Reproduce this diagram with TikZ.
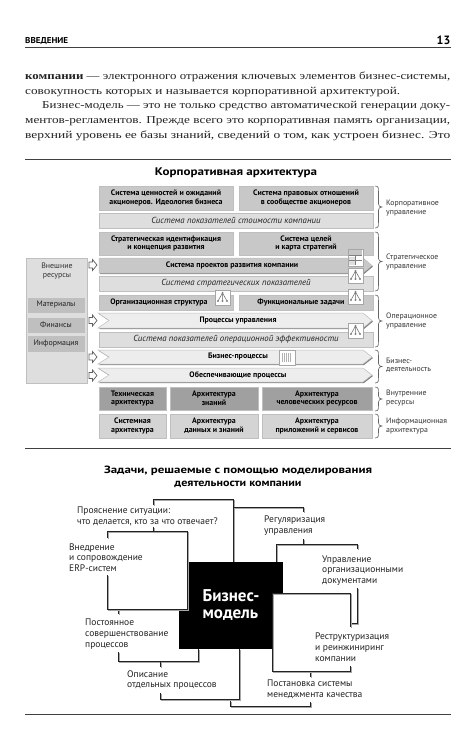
\documentclass[tikz,border=0pt]{standalone}
\usepackage{fontspec}
\usepackage{graphicx}
\setmainfont{Liberation Serif}
\setsansfont{PT Sans}
\usetikzlibrary{shadows,calc}
\definecolor{boxa}{HTML}{C8C8C8}
\definecolor{boxb}{HTML}{DEDEDE}
\definecolor{boxc}{HTML}{A0A0A0}
\definecolor{boxd}{HTML}{D4D4D4}
\definecolor{boxe}{HTML}{EDEDED}
\definecolor{shad}{HTML}{808080}
\definecolor{ink}{HTML}{222222}
\definecolor{lab}{HTML}{333333}
\tikzset{
  bx/.style={draw=gray!50,line width=.5pt,inner sep=0pt,align=center,text=black,font=\sffamily\bfseries\fontsize{7.9}{8.9}\selectfont,
    general shadow={fill=shad,shadow xshift=1pt,shadow yshift=-1pt}},
  ital/.style={bx,fill=boxb,font=\sffamily\itshape\fontsize{8.8}{9.5}\selectfont,text=ink},
  dark/.style={bx,fill=boxc},
  mid/.style={bx,fill=boxa},
  pale/.style={bx,fill=boxd},
  res/.style={bx,fill=gray!50,font=\sffamily\fontsize{7.9}{8.9}\selectfont,text=ink},
  panel/.style={bx,fill=boxb,font=\sffamily\fontsize{7.9}{8.9}\selectfont,text=lab},
  arrowbar/.style={draw=gray!50,line width=.5pt,general shadow={fill=shad,shadow xshift=1pt,shadow yshift=-1pt}},
  barlabel/.style={inner sep=0pt,font=\sffamily\bfseries\fontsize{7.9}{8.9}\selectfont},
  sidelab/.style={anchor=west,inner sep=0pt,align=left,text=lab,font=\sffamily\fontsize{7.8}{8.4}\selectfont},
  tasklab/.style={anchor=west,inner sep=0pt,align=left,text=ink,font=\sffamily\fontsize{9.5}{10.8}\selectfont},
  frameline/.style={draw=ink,line width=.8pt,preaction={draw=gray!70,line width=1pt,transform canvas={xshift=1pt,yshift=-1pt}}},
  brc/.style={draw=gray!80!black,line width=.6pt},
  rulethick/.style={draw=black!75,line width=.9pt},
  bodyline/.style={anchor=west,inner sep=0pt},
  hollow/.style={draw=gray!75!black,fill=white,line width=.7pt},
  icon/.style={draw=gray!70,fill=white,line width=.5pt}
}
% name, x1,y1,x2,y2, style, text
\newcommand\bxx[7]{%
  \pgfmathsetmacro\mycx{(#2+#4)/2}\pgfmathsetmacro\mycy{(#3+#5)/2}%
  \pgfmathsetmacro\myw{#4-#2}\pgfmathsetmacro\myh{#5-#3}%
  \node[#6,minimum width=\myw pt,minimum height=\myh pt] (#1) at (\mycx,\mycy) {#7};}
\newcommand\sidebrace[2]{%
  \pgfmathsetmacro\ym{(#1+#2)/2}%
  \draw[brc] (375,#1) .. controls (379,#1) and (378.5,#1+3) .. (378.5,#1+6) -- (378.5,\ym-3) .. controls (378.5,\ym-1) and (380,\ym) .. (382,\ym)
     .. controls (380,\ym) and (378.5,\ym+1) .. (378.5,\ym+3) -- (378.5,#2-6) .. controls (378.5,#2-3) and (379,#2) .. (375,#2);}
\newcommand\hollowarrow[1]{%
  \draw[hollow] (89,#1-3) -- (92.5,#1-3) -- (92.5,#1-5.5) -- (97,#1) -- (92.5,#1+5.5) -- (92.5,#1+3) -- (89,#1+3) -- cycle;}
\newcommand\chev[4]{% name, y1, y2, fill
  \pgfmathsetmacro\ym{(#2+#3)/2}%
  \path[arrowbar,fill=#4] (98,#2) -- (363,#2) -- (372,\ym) -- (363,#3) -- (98,#3) -- (109,\ym) -- cycle;}
\newcommand\treeicon[2]{%
  \draw[icon] (#1,#2) rectangle ++(15,15);
  \draw[gray!80!black,line width=.5pt] (#1+7.5,#2+3) -- (#1+3,#2+11) (#1+7.5,#2+3) -- (#1+7.5,#2+11) (#1+7.5,#2+3) -- (#1+12,#2+11);
  \fill[gray] (#1+7.5,#2+3) circle (1.2) (#1+3,#2+11) circle (1.2) (#1+7.5,#2+11) circle (1.2) (#1+12,#2+11) circle (1.2);}
\newcommand\bline[3]{\node[bodyline] at (#1,#2) {#3};}
\begin{document}
\begin{tikzpicture}[x=1pt,y=-1pt]
\useasboundingbox[fill=white] (0,0) rectangle (476,750);
% page header
\node[bodyline,font=\sffamily\bfseries\fontsize{8.5}{9}\selectfont] (hd) at (25,41) {\resizebox{43pt}{\height}{ВВЕДЕНИЕ}};
\node[anchor=east,inner sep=0pt,font=\sffamily\bfseries\fontsize{12}{12}\selectfont] (pg) at (450.5,40) {13};
\draw[rulethick] (25,47) -- (451,47);
% body
\begin{scope}[font=\rmfamily\fontsize{10.6}{11}\selectfont,text=ink]
\bline{25}{77}{\resizebox{425pt}{\height}{\textbf{компании} — электронного отражения ключевых элементов бизнес-системы,}}
\bline{25}{92}{\resizebox{375pt}{\height}{совокупность которых и называется корпоративной архитектурой.}}
\bline{42}{106.5}{\resizebox{408pt}{\height}{Бизнес-модель — это не только средство автоматической генерации доку-}}
\bline{25}{121.5}{\resizebox{425pt}{\height}{ментов-регламентов. Прежде всего это корпоративная память организации,}}
\bline{25}{135.5}{\resizebox{425pt}{\height}{верхний уровень ее базы знаний, сведений о том, как устроен бизнес. Это}}
\end{scope}
\draw[rulethick] (25,159) -- (451,159);
% title
\node[inner sep=0pt,font=\sffamily\bfseries\fontsize{11}{12}\selectfont] (t1) at (236,173) {\resizebox{162pt}{\height}{Корпоративная архитектура}};
% left panel
\bxx{ext}{26}{258}{87}{383}{panel}{}
\node[inner sep=0pt,align=center,text=lab,font=\sffamily\fontsize{7.9}{8.9}\selectfont] (extl) at (57,271) {Внешние\\ресурсы};
\bxx{m1}{28}{298}{84}{312}{res}{Материалы}
\bxx{m2}{28}{318}{84}{332}{res}{Финансы}
\bxx{m3}{28}{336}{84}{351}{res}{Информация}
\hollowarrow{265}\hollowarrow{320.5}\hollowarrow{357}\hollowarrow{375.5}
% rows
\bxx{r1a}{99}{186}{233}{210}{mid}{Система ценностей и ожиданий\\акционеров. Идеология бизнеса}
\bxx{r1b}{239}{186}{373}{210}{mid}{Система правовых отношений\\в сообществе акционеров}
\bxx{r2}{99}{213}{373}{228}{ital}{Система показателей стоимости компании}
\bxx{r3a}{99}{232}{233}{255}{mid}{Стратегическая идентификация\\и концепция развития}
\bxx{r3b}{239}{232}{373}{255}{mid}{Система целей\\и карта стратегий}
\path[arrowbar,fill=boxa] (99,258) -- (363,258) -- (372,265.5) -- (363,273) -- (99,273) -- cycle;
\node[barlabel] (r4) at (232,265.5) {Система проектов развития компании};
\bxx{r5}{99}{276}{373}{291}{ital}{Система стратегических показателей}
\bxx{r6a}{99}{295}{233}{310}{mid}{\hspace{-14pt}Организационная структура}
\bxx{r6b}{239}{295}{373}{310}{mid}{\hspace{-10pt}Функциональные задачи}
\chev{r7}{313}{328}{boxe}
\node[barlabel] (r7l) at (238,320.5) {Процессы управления};
\bxx{r8}{99}{332}{373}{347}{ital}{Система показателей операционной эффективности}
\chev{r9}{350}{364}{boxe}
\node[barlabel] (r9l) at (238,357) {Бизнес-процессы};
\chev{r10}{368}{382}{boxe}
\node[barlabel] (r10l) at (238,375) {Обеспечивающие процессы};
\bxx{r11a}{99}{387}{166}{410}{dark}{Техническая\\архитектура}
\bxx{r11b}{170}{387}{258}{410}{dark}{Архитектура\\знаний}
\bxx{r11c}{262}{387}{372}{410}{dark}{Архитектура\\человеческих ресурсов}
\bxx{r12a}{99}{414}{166}{438}{pale}{Системная\\архитектура}
\bxx{r12b}{170}{414}{258}{438}{pale}{Архитектура\\данных и знаний}
\bxx{r12c}{262}{414}{372}{438}{pale}{Архитектура\\приложений и сервисов}
% icons
\treeicon{215}{290}
\treeicon{348}{289}
\treeicon{348}{268}
\treeicon{348}{323}
\draw[icon] (348,249) rectangle (363,266);
\fill[gray!45] (349,250) rectangle (362,255);
\fill[gray!25] (349,257) rectangle (355,265);
\draw[gray,line width=.4pt] (349,255) -- (362,255) (355,255) -- (355,265) (349,260) -- (362,260);
\draw[icon] (279,350) rectangle (295,365);
\fill[gray!60] (282,353) rectangle (292,362);
\foreach \hx in {283,285,287,289,291}{\draw[white,line width=.5pt] (\hx,353) -- (\hx,362);}
% braces
\sidebrace{186}{228}\sidebrace{232}{291}\sidebrace{295}{347}\sidebrace{350}{383}\sidebrace{387}{411}\sidebrace{414}{438}
\node[sidelab] (s1) at (386,208) {Корпоративное\\управление};
\node[sidelab] (s2) at (386,262) {Стратегическое\\управление};
\node[sidelab] (s3) at (386,321) {Операционное\\управление};
\node[sidelab] (s4) at (386,365) {Бизнес-\\деятельность};
\node[sidelab] (s5) at (386,398) {Внутренние\\ресурсы};
\node[sidelab] (s6) at (386,426) {Информационная\\архитектура};
\draw[rulethick] (25,448) -- (451,448);
% lower title
\node[inner sep=0pt,align=center,font=\sffamily\bfseries\fontsize{10.5}{13}\selectfont] (t2) at (238,476.5) {\resizebox{268pt}{\height}{Задачи, решаемые с помощью моделирования}\\\resizebox{127pt}{\height}{деятельности компании}};
% frames behind the black box
\draw[frameline] (153,505) -- (153,499) -- (233,499) -- (233,562);
\draw[frameline] (233,507) -- (303,507) -- (303,512);
\draw[frameline] (303,539) -- (303,544);
\draw[frameline] (276,562) -- (276,544) -- (357,544) -- (357,549);
\draw[frameline] (357,588) -- (357,623) -- (350,623);
\draw[frameline] (118,652) -- (118,661) -- (198,661) -- (198,649);
\draw[frameline] (160,693) -- (160,699) -- (239,699) -- (239,649);
\draw[frameline] (230,701) -- (230,706) -- (310,706) -- (310,702);
\draw[frameline] (160,661) -- (160,667);
\draw[frameline] (310,672) -- (310,677);
\draw[frameline] (153,527) -- (153,531);
\draw[frameline] (118,610) -- (118,614);
% black box
\node[fill=black,text=white,inner sep=0pt,minimum width=104pt,minimum height=87pt] (bm) at (231,605.5) {};
% white frames over it
\fill[white] (107,531) rectangle (187,609);
\fill[white] (272,593) rectangle (350,671);
\draw[frameline] (107,538) -- (107,531) -- (187,531) -- (187,609) -- (107,609) -- (107,575);
\draw[frameline] (350,627) -- (350,593) -- (272,593) -- (272,671) -- (350,671) -- (350,666);
\node[inner sep=0pt,align=left,text=white,font=\sffamily\bfseries\fontsize{17}{17}\selectfont] (bml) at (231,605.5) {Бизнес-\\модель};
% task labels
\node[tasklab] (a1) at (77,516.5) {Прояснение ситуации:\\что делается, кто за что отвечает?};
\node[tasklab] (a2) at (69,557.5) {Внедрение\\и сопровождение\\ERP-систем};
\node[tasklab] (a3) at (264,526) {Регуляризация\\управления};
\node[tasklab] (a4) at (322,570.5) {Управление\\организационными\\документами};
\node[tasklab] (a5) at (315,647) {Реструктуризация\\и реинжиниринг\\компании};
\node[tasklab] (a6) at (85,634) {Постоянное\\совершенствование\\процессов};
\node[tasklab] (a7) at (127,680) {Описание\\отдельных процессов};
\node[tasklab] (a8) at (267,689.5) {Постановка системы\\менеджмента качества};
\draw[rulethick] (25,714) -- (451,714);
\end{tikzpicture}
\end{document}
